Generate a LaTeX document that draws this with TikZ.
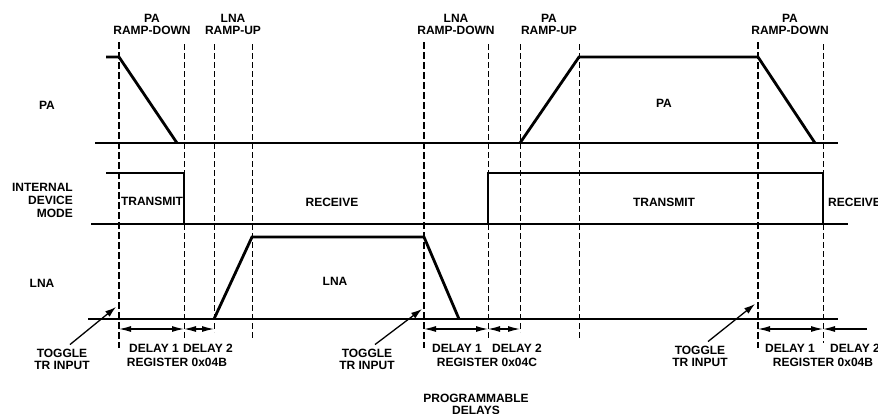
\documentclass[tikz,border=0pt]{standalone}
\usepackage{fontspec}
\setmainfont{Liberation Sans}
\usepackage{tikz}
\usetikzlibrary{arrows.meta,positioning,calc}

\begin{document}
\begin{tikzpicture}[x=1pt, y=-1pt, font=\bfseries\fontsize{12}{12}\selectfont,
    lbl/.style={align=center, inner sep=0pt},
    sig/.style={line width=2.8pt},
    base/.style={line width=1.7pt},
    tickthin/.style={line width=0.9pt, dash pattern=on 6pt off 3pt},
    tickthick/.style={line width=1.9pt, dash pattern=on 7pt off 3pt},
    ptr/.style={-{Latex[length=11pt,width=7pt]}, line width=1.3pt},
    span/.style={{Latex[length=12pt,width=6pt]}-{Latex[length=12pt,width=6pt]}, line width=1.1pt}]
        \useasboundingbox (0,0) rectangle (878,413);
        % toggle marks (thick) and delay ends (thin)
        \foreach \x/\name in {119/ta, 424/tb, 758/tc} {
            \draw[tickthick] (\x,42) -- (\x,348);
            \coordinate (\name) at (\x,329);
        }
        \foreach \x/\y/\name in {184/340/a1, 214/332/a2, 252/338/a3, 488/340/b1, 520/332/b2, 579/340/b3, 823/343/c1} {
            \draw[tickthin] (\x,44) -- (\x,\y);
            \coordinate (\name) at (\x,329);
        }
        % ramp labels on top
        \node[lbl] (rampa) at (152,24) {PA\\RAMP-DOWN};
        \node[lbl] (rampb) at (233,24) {LNA\\RAMP-UP};
        \node[lbl] (rampc) at (456,24) {LNA\\RAMP-DOWN};
        \node[lbl] (rampd) at (549,24) {PA\\RAMP-UP};
        \node[lbl] (rampe) at (790,24) {PA\\RAMP-DOWN};
        % PA trace
        \node[lbl] (pa) at (47,105) {PA};
        \draw[base] (95,143) -- (838,143);
        \draw[sig] (106,57) -- (119,57) -- (177,143);
        \draw[sig] (520,143) -- (579,57) -- (758,57) -- (815,143);
        \node[lbl] (paon) at (664,103) {PA};
        % internal device mode
        \node[lbl, align=right, font=\bfseries\fontsize{12}{13}\selectfont, anchor=east] (mode) at (73,200) {INTERNAL\\DEVICE\\MODE};
        \draw[base] (91,224) -- (848,224);
        \draw[sig] (106,173) -- (184,173) -- (184,224) -- (488,224) -- (488,173) -- (823,173) -- (823,224) -- (848,224);
        \node[lbl] (txa) at (152,201) {TRANSMIT};
        \node[lbl] (rxa) at (332,202) {RECEIVE};
        \node[lbl] (txb) at (664,202) {TRANSMIT};
        \node[lbl, anchor=west] (rxb) at (828,202) {RECEIVE};
        % LNA trace
        \node[lbl] (lna) at (42,283) {LNA};
        \draw[base] (88,319) -- (838,319);
        \draw[sig] (214,319) -- (252,237) -- (424,237) -- (459,319);
        \node[lbl] (lnaon) at (335,281) {LNA};
        % delays
        \draw[span] (ta) -- (a1);
        \draw[span] (a1) -- (a2);
        \draw[span] (tb) -- (b1);
        \draw[span] (b1) -- (b2);
        \draw[span] (tc) -- (c1);
        \coordinate (cend) at (867,329);
        \draw[-{Latex[length=12pt,width=6pt]}, line width=1.1pt] (cend) -- (c1);
        \node[lbl] (dla1) at (154,348) {DELAY 1};
        \node[lbl] (dla2) at (208,348) {DELAY 2};
        \node[lbl] (rega) at (177,362) {REGISTER 0x04B};
        \node[lbl] (dlb1) at (457,348) {DELAY 1};
        \node[lbl] (dlb2) at (517,348) {DELAY 2};
        \node[lbl] (regb) at (487,362) {REGISTER 0x04C};
        \node[lbl] (dlc1) at (790,348) {DELAY 1};
        \node[lbl, anchor=west] (dlc2) at (830,348) {DELAY 2};
        \node[lbl] (regc) at (823,362) {REGISTER 0x04B};
        \node[lbl] (prog) at (476,404) {PROGRAMMABLE\\DELAYS};
        % toggle TR input
        \node[lbl] (tog1) at (62,359) {TOGGLE\\TR INPUT};
        \node[lbl] (tog2) at (367,359) {TOGGLE\\TR INPUT};
        \node[lbl] (tog3) at (700,356) {TOGGLE\\TR INPUT};
        \coordinate (tr1) at (116,307);
        \coordinate (tr2) at (422,309);
        \coordinate (tr3) at (755,304);
        \draw[ptr] ($(tog1.north)+(8,-4)$) -- (tr1);
        \draw[ptr] ($(tog2.north)+(8,-4)$) -- (tr2);
        \draw[ptr] ($(tog3.north)+(8,-4)$) -- (tr3);
    \end{tikzpicture}
\end{document}
